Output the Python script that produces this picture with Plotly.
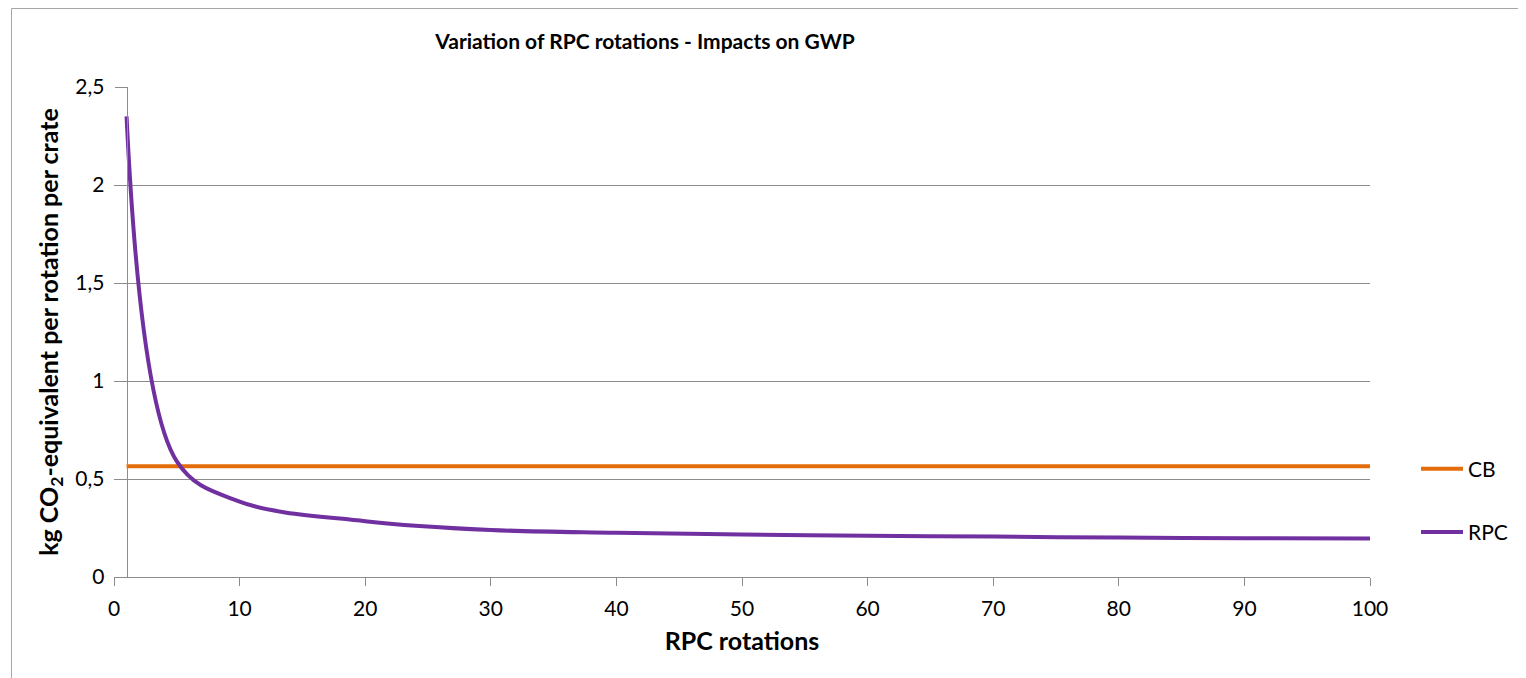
import plotly.graph_objects as go

# ---- data ----
rotations_rpc = [1, 5, 10, 20, 30, 40, 50, 60, 70, 80, 90, 100]
gwp_rpc = [2.35, 0.59, 0.385, 0.285, 0.24, 0.226, 0.217, 0.211, 0.206, 0.201, 0.198, 0.196]
rotations_cb = [1, 100]
gwp_cb = [0.565, 0.565]

x_ticks = [0, 10, 20, 30, 40, 50, 60, 70, 80, 90, 100]
y_ticks = [0, 0.5, 1, 1.5, 2, 2.5]

FONT = "Lato"
# page body has an 8px margin, so the figure is drawn at (8, 8)
W, H = 1518, 670
L, R, T, B = 106, 156, 79, 101
PW, PH = W - L - R, H - T - B

fig = go.Figure()
fig.add_trace(go.Scatter(
    x=rotations_cb, y=gwp_cb, name="CB", mode="lines",
    line=dict(color="#E46C0A", width=4),
    legendgroup="cb",
))
fig.add_trace(go.Scatter(
    x=rotations_rpc, y=gwp_rpc, name="RPC", mode="lines",
    line=dict(color="#7030A0", width=4, shape="spline", smoothing=1),
    legendgroup="rpc",
))

fig.update_layout(
    width=W, height=H,
    margin=dict(l=L, r=R, t=T, b=B, autoexpand=False),
    paper_bgcolor="white", plot_bgcolor="white",
    separators=", ",
    font=dict(family=FONT, size=21, color="black"),
    title=dict(
        text="<b>Variation of RPC rotations - Impacts on GWP</b>",
        x=(645 - 8) / W, xref="container", xanchor="center",
        y=1 - (42 - 8) / H, yref="container", yanchor="middle",
        font=dict(family=FONT, size=21, color="black"),
    ),
    xaxis=dict(
        range=[0, 100], tickvals=x_ticks, showgrid=False, zeroline=False,
        showline=True, linecolor="#8c8c8c", linewidth=1,
        ticks="outside", ticklen=8, tickcolor="#8c8c8c", tickwidth=1,
        ticklabelstandoff=5,
        tickfont=dict(family=FONT, size=21, color="black"),
        title=dict(text="<b>RPC rotations</b>", standoff=13,
                   font=dict(family=FONT, size=25, color="black")),
        automargin=False,
    ),
    yaxis=dict(
        range=[0, 2.5], tickvals=y_ticks, showgrid=True, gridcolor="#8c8c8c", gridwidth=1,
        zeroline=False, showline=True, linecolor="#8c8c8c", linewidth=1,
        anchor="free", position=0.01,
        ticks="outside", ticklen=12, tickcolor="#8c8c8c", tickwidth=1,
        ticklabelstandoff=6,
        tickfont=dict(family=FONT, size=21, color="black"),
        title=dict(text="<b>kg CO<sub>2</sub>-equivalent per rotation per crate</b>", standoff=8,
                   font=dict(family=FONT, size=25, color="black")),
        automargin=False,
    ),
    legend=dict(
        x=(1416 - 8 - L) / PW, y=0.262, xanchor="left", yanchor="top",
        traceorder="grouped", tracegroupgap=33, itemwidth=42,
        font=dict(family=FONT, size=21, color="black"),
        bgcolor="rgba(0,0,0,0)",
    ),
    shapes=[dict(
        type="rect", xref="paper", yref="paper",
        x0=(3.5 - L) / PW, x1=1.3,
        y0=-0.4, y1=(H - B - 0.5) / PH,
        line=dict(color="#a6a6a6", width=1), fillcolor="rgba(0,0,0,0)", layer="below",
    )],
)

fig.write_html("out.html")
